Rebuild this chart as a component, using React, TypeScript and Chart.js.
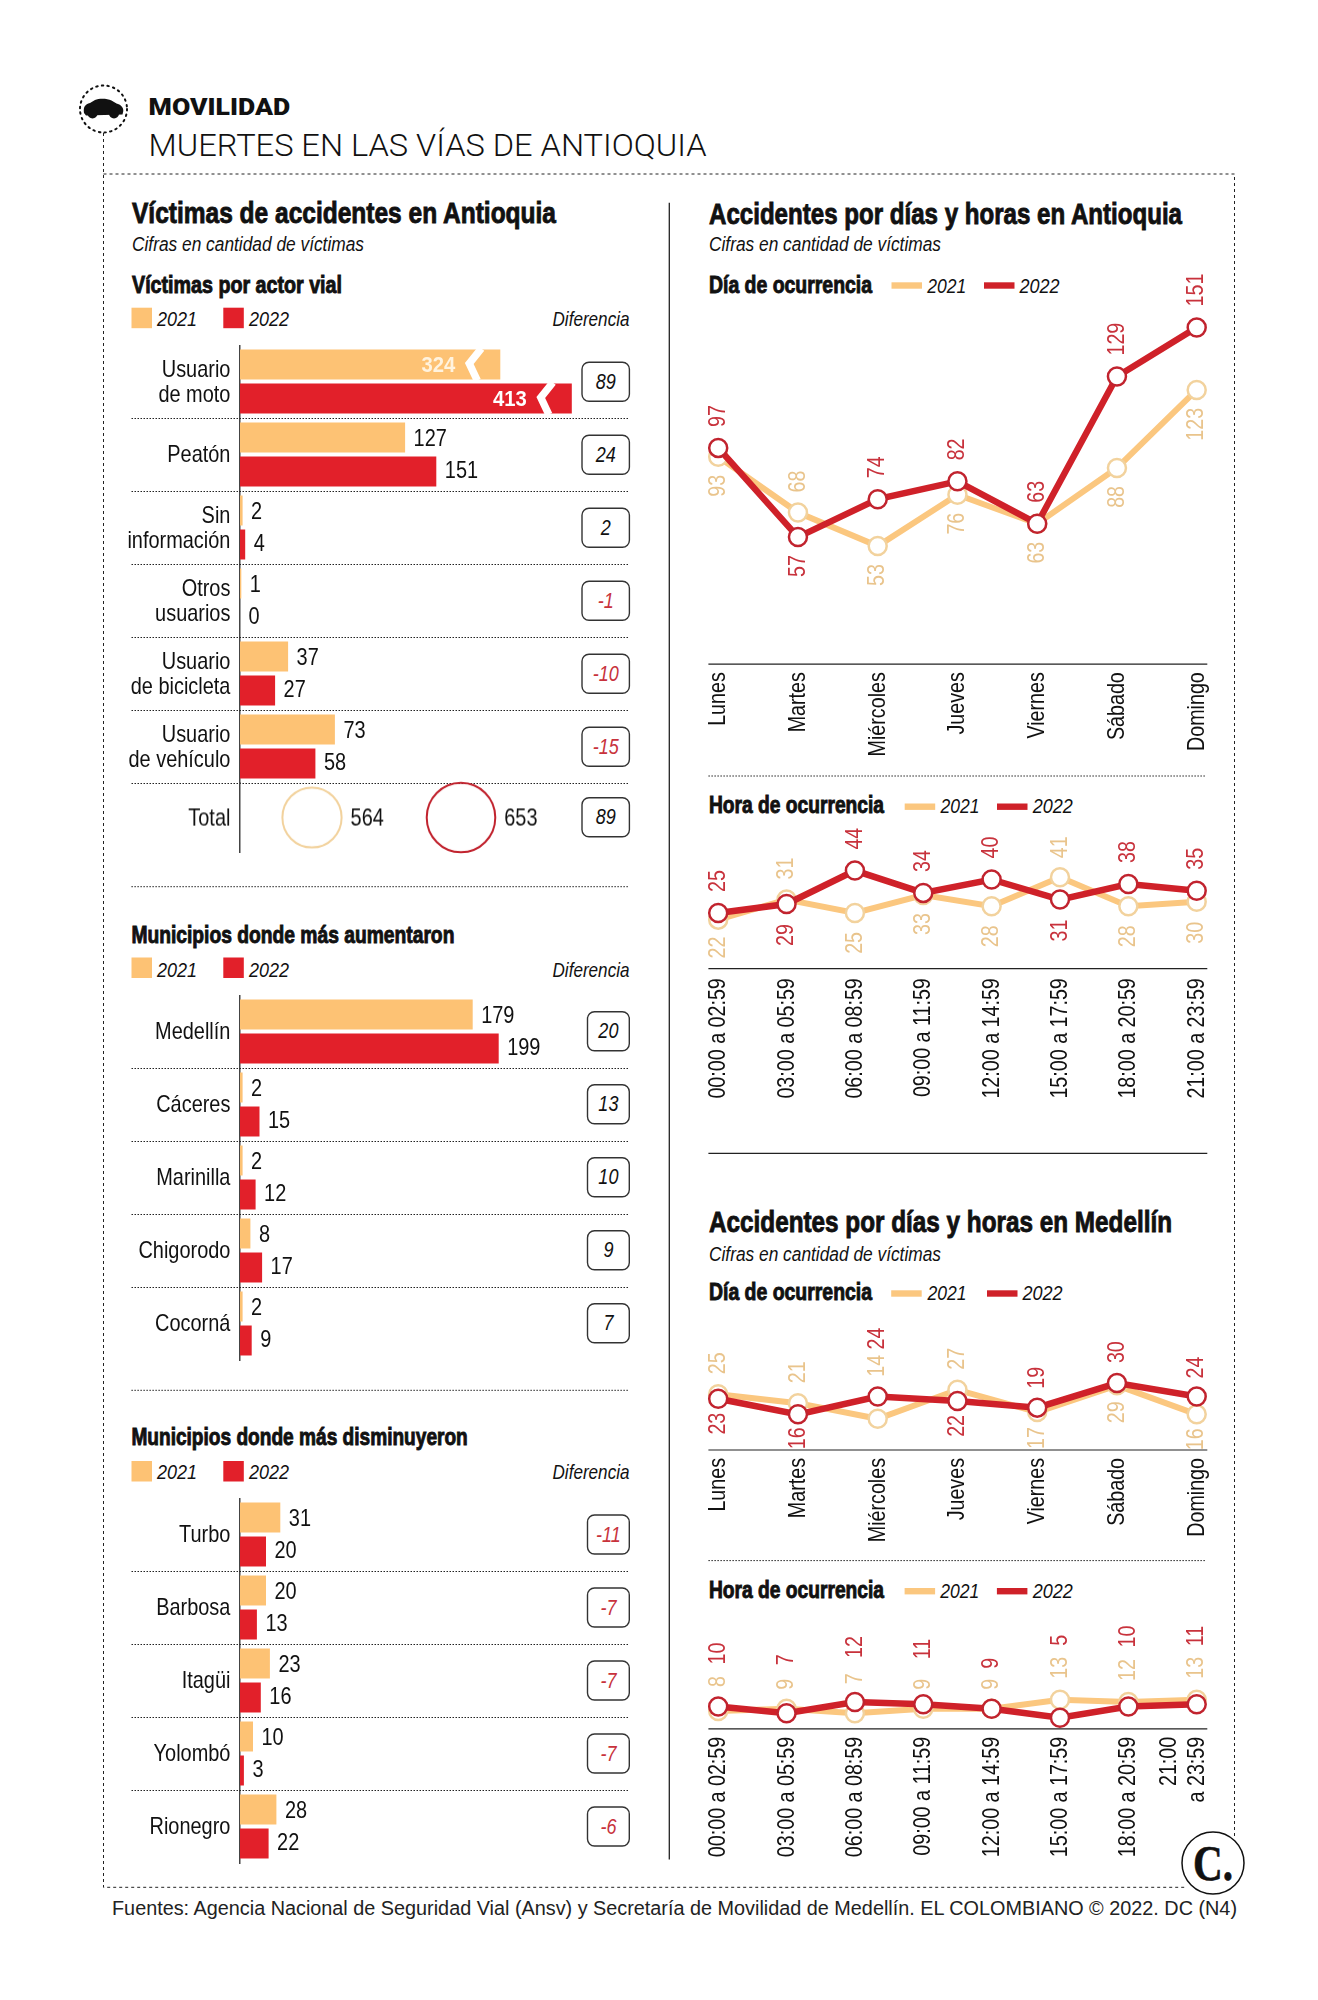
import React, { useEffect, useRef } from 'react';
import { Chart, registerables, LinearScale } from 'chart.js';

// ---------- data ----------
const actorLabels = [['Usuario', 'de moto'], 'Peatón', ['Sin', 'información'], ['Otros', 'usuarios'], ['Usuario', 'de bicicleta'], ['Usuario', 'de vehículo']];
const actor2021 = [324, 127, 2, 1, 37, 73];
const actor2022 = [413, 151, 4, 0, 27, 58];
const actorDiff = [89, 24, 2, -1, -10, -15];
const totalLabel = ['Total'];
const totals = [564, 653];
const totalDiff = 89;

const upLabels = ['Medellín', 'Cáceres', 'Marinilla', 'Chigorodo', 'Cocorná'];
const up2021 = [179, 2, 2, 8, 2];
const up2022 = [199, 15, 12, 17, 9];
const upDiff = [20, 13, 10, 9, 7];

const downLabels = ['Turbo', 'Barbosa', 'Itagüi', 'Yolombó', 'Rionegro'];
const down2021 = [31, 20, 23, 10, 28];
const down2022 = [20, 13, 16, 3, 22];
const downDiff = [-11, -7, -7, -7, -6];

const days = ['Lunes', 'Martes', 'Miércoles', 'Jueves', 'Viernes', 'Sábado', 'Domingo'];
const hours = ['00:00 a 02:59', '03:00 a 05:59', '06:00 a 08:59', '09:00 a 11:59', '12:00 a 14:59', '15:00 a 17:59', '18:00 a 20:59', '21:00 a 23:59'];

const antDay2021 = [93, 68, 53, 76, 63, 88, 123];
const antDay2022 = [97, 57, 74, 82, 63, 129, 151];
const antHour2021 = [22, 31, 25, 33, 28, 41, 28, 30];
const antHour2022 = [25, 29, 44, 34, 40, 31, 38, 35];
const medDay2021 = [25, 21, 14, 27, 17, 29, 16];
const medDay2022 = [23, 16, 24, 22, 19, 30, 24];
const medHour2021 = [8, 9, 7, 9, 9, 13, 12, 13];
const medHour2022 = [10, 7, 12, 11, 9, 5, 10, 11];

// ---------- label placement (px from the point, + above, - below) ----------
const antDayOff21 = [-18, 20, -18, -18, -18, -18, -18];
const antDayOff22 = [21, -18, 21, 21, 21, 21, 21];
const antHourOff21 = [-17, 20, -19, -18, -19, 19, -19, -20];
const antHourOff22 = [21, -20, 21, 21, 21, -20, 21, 21];
const medDayOff21 = [20, 20, 42, 20, -15, -16, -14];
const medDayOff22 = [-14, -13, 47, -14, 19, 20, 18];
const medHourOff21 = [24, 19, 29, 19, 19, 21, 21, 21];
const medHourOff22 = [42, 48, 44, 45, 40, 72, 59, 58];

// ---------- style ----------
const SANS = '"Liberation Sans", sans-serif';
const NARROW_X = 0.83;
const ORANGE = '#fdc274';
const RED = '#e2202a';
const LINE_ORANGE = '#fbc77f';
const LINE_RED = '#cf2129';
const PT_ORANGE = '#f2d29d';
const PT_RED = '#c1232e';
const LBL_ORANGE = '#e9c48c';
const LBL_RED = '#c8323c';
const INK = '#111';
const PX_PER_VICTIM = 1.3;
const PX_PER_UNIT = 2.23;
const CANVAS_LEFT = 120;
const CANVAS_W = 509;
const AXIS_W = 120;
const SEP_START = 11.5;

// ---------- broken value axis for the bars that do not fit ----------
const BREAK_AT = 300;
const BREAK_RATIO = 0.618;
class BrokenLinear extends LinearScale {
  static id = 'brokenLinear';
  static defaults = LinearScale.defaults;
  getPixelForValue(value: number) {
    return super.getPixelForValue(value > BREAK_AT ? value * BREAK_RATIO : value);
  }
}
Chart.register(...registerables, BrokenLinear);

// condensed canvas text: there is no condensed face installed
const narrow = (ctx: any, text: string, x: number, y: number, o: any = {}) => {
  ctx.save();
  ctx.translate(x, y);
  if (o.rot) ctx.rotate(-Math.PI / 2);
  ctx.scale(o.sx ?? NARROW_X, 1);
  ctx.font = `${o.bold ? 'bold ' : ''}${o.size ?? 24}px ${SANS}`;
  ctx.textAlign = o.align ?? 'left';
  ctx.textBaseline = 'middle';
  ctx.fillStyle = o.color ?? INK;
  ctx.fillText(text, 0, 0);
  ctx.restore();
};

const noPad = (s: any) => { s.paddingLeft = 0; s.paddingRight = 0; s.paddingTop = 0; s.paddingBottom = 0; };

// ---------- plugins ----------
const yTickLabels = {
  id: 'yTickLabels',
  afterDraw(chart: any) {
    const { ctx, scales } = chart;
    chart.data.labels.forEach((lab: any, i: number) => {
      const cy = scales.y.getPixelForValue(i) + 1;
      const lines = Array.isArray(lab) ? lab : [lab];
      lines.forEach((ln: string, k: number) => {
        narrow(ctx, ln, scales.y.right - 9.6, cy + (k - (lines.length - 1) / 2) * 25, { align: 'right' });
      });
    });
  },
};

const barExtras = (sepCount: number) => ({
  id: 'barExtras',
  afterDatasetsDraw(chart: any) {
    const { ctx, chartArea } = chart;
    const n = chart.data.labels.length;
    const rowH = chartArea.height / n;
    ctx.save();
    ctx.strokeStyle = '#222';
    ctx.lineWidth = 1;
    ctx.setLineDash([1.5, 1.5]);
    for (let i = 0; i < sepCount; i++) {
      const y = Math.round(chartArea.top + rowH * (i + 1)) + 0.5;
      ctx.beginPath();
      ctx.moveTo(SEP_START, y);
      ctx.lineTo(chart.width - 1, y);
      ctx.stroke();
    }
    ctx.setLineDash([]);
    chart.data.datasets.forEach((ds: any, d: number) => {
      chart.getDatasetMeta(d).data.forEach((bar: any, j: number) => {
        const v = ds.data[j];
        if (v > BREAK_AT) {
          ctx.strokeStyle = '#fff';
          ctx.lineWidth = 7.5;
          ctx.lineJoin = 'miter';
          const top = bar.y - bar.height / 2 - 1;
          const bot = bar.y + bar.height / 2 + 1;
          ctx.beginPath();
          ctx.moveTo(bar.x - 19, top);
          ctx.lineTo(bar.x - 31, bar.y - 1);
          ctx.lineTo(bar.x - 23, bot);
          ctx.stroke();
          narrow(ctx, String(v), bar.x - 45, bar.y + 1, { bold: true, size: 22, sx: 0.92, align: 'right', color: d === 0 ? '#fff3df' : '#fff' });
        } else {
          narrow(ctx, String(v), bar.x + 8.5, bar.y + (d === 0 ? 1.5 : -0.5));
        }
      });
    });
    ctx.restore();
  },
});

const bubbleLabels = {
  id: 'bubbleLabels',
  afterDatasetsDraw(chart: any) {
    chart.getDatasetMeta(0).data.forEach((pt: any, i: number) => {
      narrow(chart.ctx, String(totals[i]), pt.x + pt.options.radius + 9, pt.y + 1);
    });
  },
};

const lineExtras = (offsets: number[][], colors: string[], tickPad: number, split?: string[]) => ({
  id: 'lineExtras',
  afterDatasetsDraw(chart: any) {
    const { ctx, chartArea, scales } = chart;
    const axisY = scales.y.getPixelForValue(0);
    chart.data.datasets.forEach((ds: any, d: number) => {
      chart.getDatasetMeta(d).data.forEach((pt: any, j: number) => {
        const off = offsets[d][j];
        narrow(ctx, String(ds.data[j]), pt.x, pt.y - off, { rot: true, sx: 0.82, align: off > 0 ? 'left' : 'right', color: colors[d] });
      });
    });
    ctx.save();
    ctx.strokeStyle = '#222';
    ctx.lineWidth = 1.2;
    ctx.beginPath();
    ctx.moveTo(chartArea.left - 9.8, axisY);
    ctx.lineTo(chartArea.right + 10.6, axisY);
    ctx.stroke();
    ctx.restore();
    const last = chart.data.labels.length - 1;
    chart.data.labels.forEach((lab: string, i: number) => {
      const x = scales.x.getPixelForValue(i);
      if (split && i === last) {
        split.forEach((ln, k) => {
          narrow(ctx, ln, x - 27.6 * (split.length - 1 - k) + 0.4, axisY + tickPad, { rot: true, sx: 0.82, align: 'right' });
        });
      } else {
        narrow(ctx, lab, x + 0.4, axisY + tickPad, { rot: true, sx: 0.82, align: 'right' });
      }
    });
  },
});

// ---------- chart configs ----------
const barConfig = (labels: any[], a: number[], b: number[], sepCount: number, broken: boolean) => ({
  type: 'bar',
  data: {
    labels,
    datasets: [
      { label: '2021', data: a, backgroundColor: ORANGE, categoryPercentage: 0.9315, barPercentage: 0.882 },
      { label: '2022', data: b, backgroundColor: RED, categoryPercentage: 0.9315, barPercentage: 0.882 },
    ],
  },
  options: {
    indexAxis: 'y',
    responsive: false,
    animation: false,
    layout: { autoPadding: false, padding: { top: 0, bottom: 2, left: 0, right: 0 } },
    plugins: { legend: { display: false }, tooltip: { enabled: false } },
    scales: {
      x: { type: broken ? 'brokenLinear' : 'linear', display: false, min: 0, max: 389 / PX_PER_VICTIM },
      y: {
        type: 'category',
        grid: { display: false },
        border: { display: true, color: '#444', width: 1.5 },
        ticks: { display: false },
        afterFit: (s: any) => { s.width = AXIS_W; noPad(s); },
      },
    },
  },
  plugins: [barExtras(sepCount), yTickLabels],
});

const bubbleConfig = () => ({
  type: 'bubble',
  data: {
    labels: totalLabel,
    datasets: [{
      data: totals.map((v, i) => ({ x: i, y: totalLabel[0], r: v * 0.0525 })),
      backgroundColor: 'rgba(0,0,0,0)',
      borderColor: [PT_ORANGE, PT_RED],
      borderWidth: 2,
      hoverBorderWidth: 2,
      clip: false,
    }],
  },
  options: {
    responsive: false,
    animation: false,
    layout: { autoPadding: false, padding: { top: 4, bottom: 4, left: 0, right: 0 } },
    plugins: { legend: { display: false }, tooltip: { enabled: false } },
    scales: {
      x: { type: 'linear', display: false, min: -72 / 149, max: 317 / 149 },
      y: {
        type: 'category',
        labels: totalLabel,
        offset: true,
        grid: { display: false },
        border: { display: true, color: '#444', width: 1.5 },
        ticks: { display: false },
        afterFit: (s: any) => { s.width = AXIS_W; noPad(s); },
      },
    },
  },
  plugins: [bubbleLabels, yTickLabels],
});

const lineConfig = (labels: string[], a: number[], b: number[], off: number[][], plotH: number, belowH: number, tickPad: number, split?: string[]) => ({
  type: 'line',
  data: {
    labels,
    datasets: [
      {
        label: '2021', data: a, order: 1, clip: false, tension: 0,
        borderColor: LINE_ORANGE, borderWidth: 6,
        pointRadius: 9, pointBorderWidth: 2.5, pointBackgroundColor: '#fff', pointBorderColor: PT_ORANGE,
      },
      {
        label: '2022', data: b, order: 0, clip: false, tension: 0,
        borderColor: LINE_RED, borderWidth: 6.5,
        pointRadius: 9, pointBorderWidth: 2.5, pointBackgroundColor: '#fff', pointBorderColor: PT_RED,
      },
    ],
  },
  options: {
    responsive: false,
    animation: false,
    layout: { autoPadding: false, padding: { top: 0, bottom: 0, left: 18.2, right: 43.3 } },
    plugins: { legend: { display: false }, tooltip: { enabled: false } },
    scales: {
      x: {
        type: 'category',
        offset: false,
        grid: { display: false },
        border: { display: false },
        ticks: { display: false },
        afterFit: (s: any) => { s.height = belowH; noPad(s); },
      },
      y: { display: false, min: 0, max: plotH / PX_PER_UNIT },
    },
  },
  plugins: [lineExtras(off, [LBL_ORANGE, LBL_RED], tickPad, split)],
});

// ---------- components ----------
const Plot = ({ left, top, width, height, make }: any) => {
  const ref = useRef<HTMLCanvasElement>(null);
  useEffect(() => {
    const c = new Chart(ref.current as any, make());
    return () => c.destroy();
  }, []);
  return <canvas ref={ref} width={width} height={height} style={{ position: 'absolute', left, top, width, height }} />;
};

const T = ({ x, y, w, s, f = SANS, wt = 400, it = false, c = INK, st = 0, children }: any) => (
  <text x={x} y={y} fontFamily={f} fontSize={s} fontWeight={wt} fontStyle={it ? 'italic' : 'normal'} fill={c}
    stroke={st ? c : 'none'} strokeWidth={st} textLength={w} lengthAdjust="spacingAndGlyphs">{children}</text>
);

const Dots = ({ x1, x2, y }: any) => <line x1={x1} x2={x2} y1={y} y2={y} stroke="#222" strokeWidth={1} strokeDasharray="1.5 1.5" />;

const Diff = ({ v, x, w, cy }: any) => (
  <g>
    <rect x={x} y={cy - 19.5} width={w} height={39} rx={7} ry={7} fill="#fff" stroke="#333" strokeWidth={1.4} />
    <g transform={`translate(${x + w / 2} ${cy + 7}) scale(0.82 1)`}>
      <text textAnchor="middle" fontFamily={SANS} fontStyle="italic" fontSize={22} fill={v < 0 ? '#c8323c' : INK}>{v}</text>
    </g>
  </g>
);

const BarLegend = ({ sqTop, base, diffBase }: any) => (
  <g>
    <rect x={131.5} y={sqTop} width={20.5} height={20.5} fill={ORANGE} />
    <T x={157} y={base} w={40} s={21} it>2021</T>
    <rect x={223.3} y={sqTop} width={20.5} height={20.5} fill={RED} />
    <T x={249} y={base} w={40} s={21} it>2022</T>
    <T x={552.5} y={diffBase} w={77} s={21} it>Diferencia</T>
  </g>
);

const LineLegend = ({ x1, t1, x2, t2, cy, base }: any) => (
  <g>
    <rect x={x1} y={cy - 3.2} width={30.5} height={6.4} fill={LINE_ORANGE} />
    <T x={t1} y={base} w={39} s={21} it>2021</T>
    <rect x={x2} y={cy - 3.2} width={30.5} height={6.4} fill={LINE_RED} />
    <T x={t2} y={base} w={40} s={21} it>2022</T>
  </g>
);

const Heading = (p: any) => <T {...p} wt={700} st={0.9} />;

const rowCenters = (start: number, n: number) => Array.from({ length: n }, (_, i) => start + 73 * i + 36.5);

export default function App() {
  return (
    <div style={{ position: 'absolute', left: 0, top: 0, width: 1318, height: 2000, background: '#fff', overflow: 'hidden' }}>
      <svg width={1318} height={2000} style={{ position: 'absolute', left: 0, top: 0 }}>
        {/* frame */}
        <path d="M103.5 133 V1887.3 H1186 M103.5 174 H1234.5 V1836" fill="none" stroke="#222" strokeWidth={1} strokeDasharray="3 3" />
        <circle cx={103.5} cy={109} r={23.5} fill="#fff" stroke="#111" strokeWidth={2} strokeDasharray="1.5 4.2" strokeLinecap="round" />
        <path d="M84 113 C83 107 85 104.5 90 103 L95 100 C99 98.3 107 98.3 111.5 100.5 L116.5 103.5 C120.5 104.5 123.5 107 123.3 111 L122.5 114.5 L86 115.5 Z" fill="#111" />
        <circle cx={92.5} cy={113.5} r={5} fill="#111" />
        <circle cx={114} cy={113.5} r={5} fill="#111" />

        {/* header */}
        <T x={148.6} y={115} w={141.6} s={23} f="Roboto, sans-serif" wt={900}>MOVILIDAD</T>
        <T x={148.6} y={156} w={558} s={31} f="Roboto, sans-serif" wt={300}>MUERTES EN LAS VÍAS DE ANTIOQUIA</T>

        {/* left column */}
        <Heading x={132} y={223} w={424} s={30}>Víctimas de accidentes en Antioquia</Heading>
        <T x={132} y={251} w={232} s={20} it>Cifras en cantidad de víctimas</T>
        <Heading x={132} y={292.5} w={210} s={23}>Víctimas por actor vial</Heading>
        <BarLegend sqTop={307.7} base={326} diffBase={326} />
        {actorDiff.map((v, i) => <Diff key={i} v={v} x={582} w={47.4} cy={rowCenters(345.3, 6)[i]} />)}
        <Diff v={totalDiff} x={582} w={47.4} cy={817.3} />
        <Dots x1={131.4} x2={628} y={886.7} />

        <Heading x={131.4} y={942.7} w={323} s={23}>Municipios donde más aumentaron</Heading>
        <BarLegend sqTop={957.5} base={976.7} diffBase={976.7} />
        {upDiff.map((v, i) => <Diff key={i} v={v} x={587.5} w={41.8} cy={rowCenters(994.7, 5)[i]} />)}
        <Dots x1={131.4} x2={628} y={1390.3} />

        <Heading x={131.4} y={1445} w={336.4} s={23}>Municipios donde más disminuyeron</Heading>
        <BarLegend sqTop={1461} base={1479.3} diffBase={1479.3} />
        {downDiff.map((v, i) => <Diff key={i} v={v} x={587.5} w={41.8} cy={rowCenters(1498, 5)[i]} />)}

        {/* divider */}
        <line x1={669.3} x2={669.3} y1={202.7} y2={1859.6} stroke="#222" strokeWidth={1.3} />

        {/* right column */}
        <Heading x={709} y={223.5} w={473} s={30}>Accidentes por días y horas en Antioquia</Heading>
        <T x={709} y={251} w={232} s={20} it>Cifras en cantidad de víctimas</T>
        <Heading x={709} y={292.6} w={163} s={23}>Día de ocurrencia</Heading>
        <LineLegend x1={891.5} t1={927.3} x2={984} t2={1019.6} cy={285.5} base={292.6} />
        <Dots x1={708.4} x2={1205} y={776} />
        <Heading x={709} y={812.7} w={175} s={23}>Hora de ocurrencia</Heading>
        <LineLegend x1={904.7} t1={940.4} x2={997} t2={1032.7} cy={806.7} base={812.7} />
        <line x1={708.4} x2={1207.3} y1={1153.3} y2={1153.3} stroke="#222" strokeWidth={1.2} />

        <Heading x={709} y={1231.5} w={463} s={30}>Accidentes por días y horas en Medellín</Heading>
        <T x={709} y={1260.6} w={232} s={20} it>Cifras en cantidad de víctimas</T>
        <Heading x={709} y={1300} w={163} s={23}>Día de ocurrencia</Heading>
        <LineLegend x1={891.2} t1={927.6} x2={987} t2={1022.5} cy={1293.5} base={1300.3} />
        <Dots x1={708.4} x2={1205} y={1560.6} />
        <Heading x={709} y={1598.4} w={175} s={23}>Hora de ocurrencia</Heading>
        <LineLegend x1={904.6} t1={940.2} x2={996.9} t2={1032.8} cy={1591.2} base={1598.4} />

        {/* footer */}
        <T x={112} y={1914.5} w={1125} s={19.5} c="#222">Fuentes: Agencia Nacional de Seguridad Vial (Ansv) y Secretaría de Movilidad de Medellín. EL COLOMBIANO © 2022. DC (N4)</T>
        <circle cx={1213} cy={1863} r={31} fill="#fff" stroke="#111" strokeWidth={1.5} />
        <T x={1193} y={1880} w={40} s={50} f='"Liberation Serif", serif' wt={700} st={0.6}>C.</T>
      </svg>

      <Plot left={CANVAS_LEFT} top={345.3} width={CANVAS_W} height={440} make={() => barConfig(actorLabels, actor2021, actor2022, 6, true)} />
      <Plot left={CANVAS_LEFT} top={779.3} width={CANVAS_W} height={76.4} make={bubbleConfig} />
      <Plot left={CANVAS_LEFT} top={994.7} width={CANVAS_W} height={367} make={() => barConfig(upLabels, up2021, up2022, 4, false)} />
      <Plot left={CANVAS_LEFT} top={1498} width={CANVAS_W} height={367} make={() => barConfig(downLabels, down2021, down2022, 4, false)} />

      <Plot left={700} top={250} width={540} height={525}
        make={() => lineConfig(days, antDay2021, antDay2022, [antDayOff21, antDayOff22], 664.2 - 250, 775 - 664.2, 8)} />
      <Plot left={700} top={816} width={540} height={334}
        make={() => lineConfig(hours, antHour2021, antHour2022, [antHourOff21, antHourOff22], 968.7 - 816, 1150 - 968.7, 9.5)} />
      <Plot left={700} top={1305} width={540} height={253}
        make={() => lineConfig(days, medDay2021, medDay2022, [medDayOff21, medDayOff22], 1450 - 1305, 1558 - 1450, 8)} />
      <Plot left={700} top={1605} width={540} height={275}
        make={() => lineConfig(hours, medHour2021, medHour2022, [medHourOff21, medHourOff22], 1728.8 - 1605, 1880 - 1728.8, 8, ['21:00', 'a 23:59'])} />
    </div>
  );
}
